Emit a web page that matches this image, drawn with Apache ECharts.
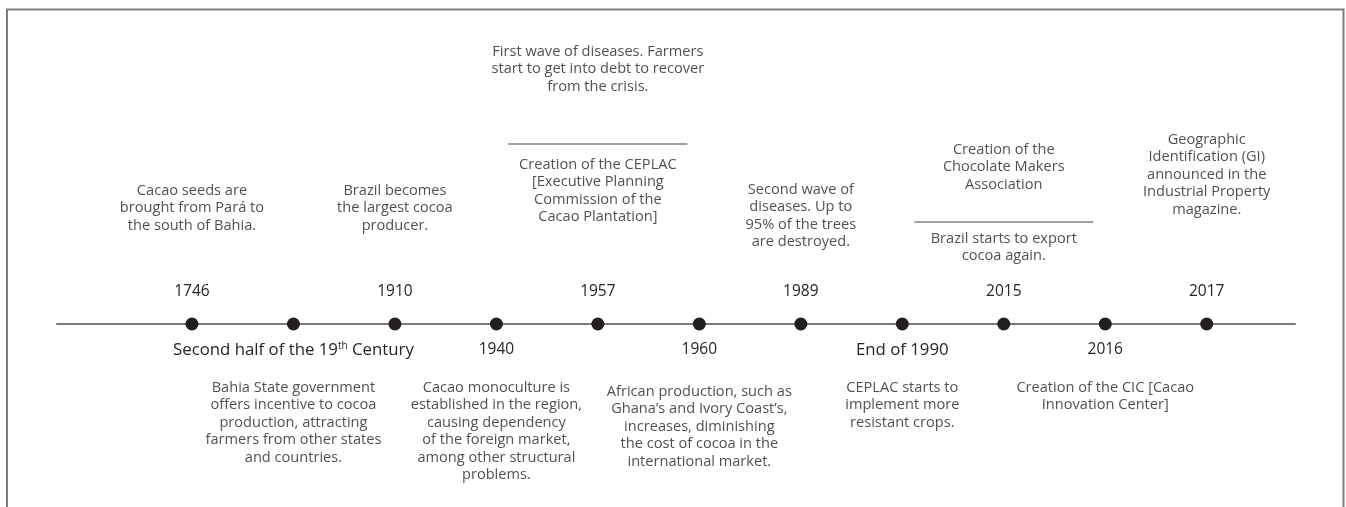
<!DOCTYPE html>
<html>
<head>
<meta charset="utf-8">
<script src="https://cdn.jsdelivr.net/npm/echarts@6/dist/echarts.min.js"></script>
<style>
  html, body { margin: 0; padding: 0; background: #fff; }
  #timeline { width: 1346px; height: 507px; }
</style>
</head>
<body>
<div id="timeline"></div>
<script>
// events along the line, left to right (equal spacing)
var years = ['1746', 'Second half of the 19{sup|th} Century', '1910', '1940', '1957', '1960', '1989', 'End of 1990', '2015', '2016', '2017'];
var yearSide = ['top', 'bottom', 'top', 'bottom', 'top', 'bottom', 'top', 'bottom', 'top', 'bottom', 'top'];
var notes = [
  'Cacao seeds are\nbrought from Pará to\nthe south of Bahia.',
  'Bahia State government\noffers incentive to cocoa\nproduction, attracting\nfarmers from other states\nand countries.',
  'Brazil becomes\nthe largest cocoa\nproducer.',
  'Cacao monoculture is\nestablished in the region,\ncausing dependency\nof the foreign market,\namong other structural\nproblems.',
  'Creation of the CEPLAC\n[Executive Planning\nCommission of the\nCacao Plantation]',
  'African production, such as\nGhana’s and Ivory Coast’s,\nincreases, diminishing\nthe cost of cocoa in the\ninternational market.',
  'Second wave of\ndiseases. Up to\n95% of the trees\nare destroyed.',
  'CEPLAC starts to\nimplement more\nresistant crops.',
  'Brazil starts to export\ncocoa again.',
  'Creation of the CIC [Cacao\nInnovation Center]',
  'Geographic\nIdentification (GI)\nannounced in the\nIndustrial Property\nmagazine.'
];
// second note stacked above a rule
var extraNotes = {
  4: 'First wave of diseases. Farmers\nstart to get into debt to recover\nfrom the crisis.',
  8: 'Creation of the\nChocolate Makers\nAssociation'
};

// layout (pixel offsets from the dot, top of text block)
var noteTop = [-142, 55, -142, 55, -168, 59, -143, 55, -94, 55, -193];
var extraTop = { 4: -281, 8: -183 };
var ruleY = { 4: -180, 8: -102 };

var textColor = '#242424';
var font = 'Open Sans';

var chart = echarts.init(document.getElementById('timeline'));

var dotData = years.map(function (y, i) {
  return {
    value: [i, 0],
    label: {
      show: true,
      position: 'inside',
      offset: [0, yearSide[i] === 'top' ? -32 : 26],
      formatter: y,
      color: textColor,
      fontFamily: font,
      fontSize: i === 1 || i === 7 ? 16.8 : 15.5,
      rich: { sup: { fontSize: 10, fontFamily: font, color: textColor, padding: [0, 0, 7, 0] } }
    }
  };
});

function noteItem(i, text, top) {
  return {
    value: [i, 0],
    label: {
      show: true,
      position: 'inside',
      offset: [0, top],
      verticalAlign: 'top',
      align: 'center',
      formatter: text,
      color: textColor,
      fontFamily: font,
      fontSize: 14.6,
      lineHeight: 17.5
    }
  };
}

var noteData = notes.map(function (t, i) { return noteItem(i, t, noteTop[i]); });
Object.keys(extraNotes).forEach(function (k) {
  noteData.push(noteItem(+k, extraNotes[k], extraTop[k]));
});

var option = {
  animation: false,
  grid: { left: 57, right: 51, top: 224, height: 200 },
  xAxis: {
    type: 'value',
    min: -1.33,
    max: 10.87,
    axisLine: { show: true, onZero: true, lineStyle: { color: '#7a7a7a', width: 2 } },
    axisTick: { show: false },
    axisLabel: { show: false },
    splitLine: { show: false }
  },
  yAxis: { type: 'value', min: -1, max: 1, show: false },
  graphic: [{
    type: 'polyline',
    shape: { points: [[7, 507], [7, 9.5], [1343.5, 9.5], [1343.5, 507]] },
    style: { stroke: '#7d7d7d', lineWidth: 2, fill: null },
    silent: true
  }],
  series: [
    {
      type: 'custom',
      renderItem: function (params, api) {
        var i = api.value(0);
        var p = api.coord([i, 0]);
        return {
          type: 'line',
          shape: { x1: p[0] - 89.5, y1: p[1] + ruleY[i], x2: p[0] + 89.5, y2: p[1] + ruleY[i] },
          style: { stroke: '#444', lineWidth: 1.2 }
        };
      },
      data: Object.keys(ruleY).map(function (k) { return [+k, 0]; }),
      silent: true
    },
    {
      type: 'scatter',
      symbolSize: 0,
      data: noteData,
      silent: true
    },
    {
      type: 'scatter',
      symbol: 'circle',
      symbolSize: 13,
      itemStyle: { color: '#231f20', opacity: 1 },
      data: dotData,
      silent: true
    }
  ]
};
chart.setOption(option);
</script>
</body>
</html>
